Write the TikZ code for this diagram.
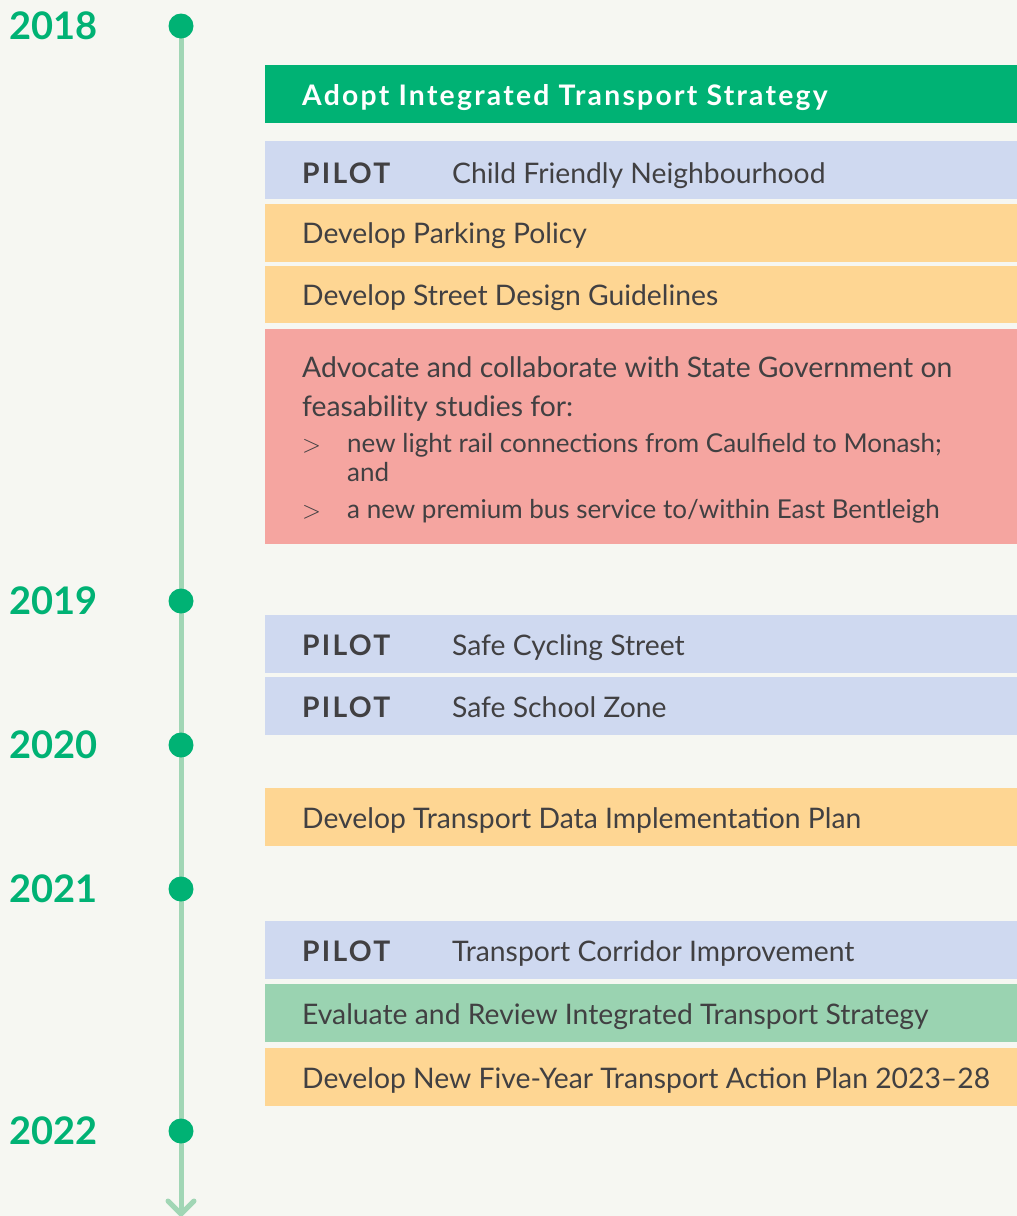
\documentclass[tikz,border=0pt]{standalone}
\usepackage{fontspec}
\setmainfont{Lato}
\newfontfamily\wideb[LetterSpace=8]{Lato Bold}
\definecolor{bg}{HTML}{F6F7F2}
\definecolor{tgreen}{HTML}{00B274}
\definecolor{tline}{HTML}{A1D6B5}
\definecolor{cpilot}{HTML}{CFD9F0}
\definecolor{cdev}{HTML}{FED693}
\definecolor{cred}{HTML}{F5A5A0}
\definecolor{ceval}{HTML}{9AD3B1}
\definecolor{ctext}{HTML}{414042}
\tikzset{
  year/.style={anchor=west, inner sep=0pt, text=tgreen, font=\fontsize{38}{44}\selectfont\bfseries},
  dotmark/.style={circle, fill=tgreen, inner sep=0pt, minimum size=25pt},
  tl/.style={draw=tline, line width=5pt},
  lbl/.style={anchor=base west, inner sep=0pt, text=ctext, font=\fontsize{28.3}{32}\selectfont},
  lblb/.style={lbl, font=\fontsize{28.3}{32}\selectfont\wideb},
  sub/.style={lbl, font=\fontsize{26}{28}\selectfont},
  head/.style={anchor=base west, inner sep=0pt, text=white, font=\fontsize{28.3}{32}\selectfont\wideb},
}
\begin{document}
\begin{tikzpicture}[x=1pt,y=-1pt]
\fill[bg] (0,0) rectangle (1017,1216);
\useasboundingbox (0,0) rectangle (1017,1216);

% timeline
\coordinate (top) at (181,26);
\coordinate (bot) at (181,1214);
\draw[tl] (top) -- (bot);
\draw[tl, line cap=round, line join=miter] ([shift={(-13,-13)}]bot) -- (bot) -- ([shift={(13,-13)}]bot);

\foreach \yr/\yy in {2018/26, 2019/601, 2020/745, 2021/889, 2022/1131}{
  \node[dotmark] (d\yr) at (181,\yy) {};
  \node[year] (y\yr) at (9,\yy) {\yr};
}

% boxes
\fill[tgreen] (265,65) rectangle (1017,123);
\fill[cpilot] (265,141) rectangle (1017,199);
\fill[cdev]   (265,204) rectangle (1017,262);
\fill[cdev]   (265,266) rectangle (1017,323);
\fill[cred]   (265,329) rectangle (1017,544);
\fill[cpilot] (265,615) rectangle (1017,673);
\fill[cpilot] (265,677) rectangle (1017,735);
\fill[cdev]   (265,788) rectangle (1017,846);
\fill[cpilot] (265,921) rectangle (1017,979);
\fill[ceval]  (265,984) rectangle (1017,1042);
\fill[cdev]   (265,1048) rectangle (1017,1106);

% texts
\node[head] (t1) at (302,105) {Adopt Integrated Transport Strategy};
\node[lblb] (p1) at (302,183) {PILOT};
\node[lbl]  (t2) at (452,183) {Child Friendly Neighbourhood};
\node[lbl]  (t3) at (302,243) {Develop Parking Policy};
\node[lbl]  (t4) at (302,305) {Develop Street Design Guidelines};
\node[lbl]  (t5a) at (302,377) {Advocate and collaborate with State Government on};
\node[lbl]  (t5b) at (302,416) {feasability studies for:};
\node[sub]  (g1) at (302,452) {$>$};
\node[sub]  (t5c) at (347,452) {new light rail connections from Caulfield to Monash;};
\node[sub]  (t5d) at (347,481) {and};
\node[sub]  (g2) at (302,518) {$>$};
\node[sub]  (t5e) at (347,518) {a new premium bus service to/within East Bentleigh};
\node[lblb] (p2) at (302,655) {PILOT};
\node[lbl]  (t6) at (452,655) {Safe Cycling Street};
\node[lblb] (p3) at (302,717) {PILOT};
\node[lbl]  (t7) at (452,717) {Safe School Zone};
\node[lbl]  (t8) at (302,828) {Develop Transport Data Implementation Plan};
\node[lblb] (p4) at (302,961) {PILOT};
\node[lbl]  (t9) at (452,961) {Transport Corridor Improvement};
\node[lbl]  (t10) at (302,1024) {Evaluate and Review Integrated Transport Strategy};
\node[lbl]  (t11) at (302,1088) {Develop New Five-Year Transport Action Plan 2023–28};
\end{tikzpicture}
\end{document}
